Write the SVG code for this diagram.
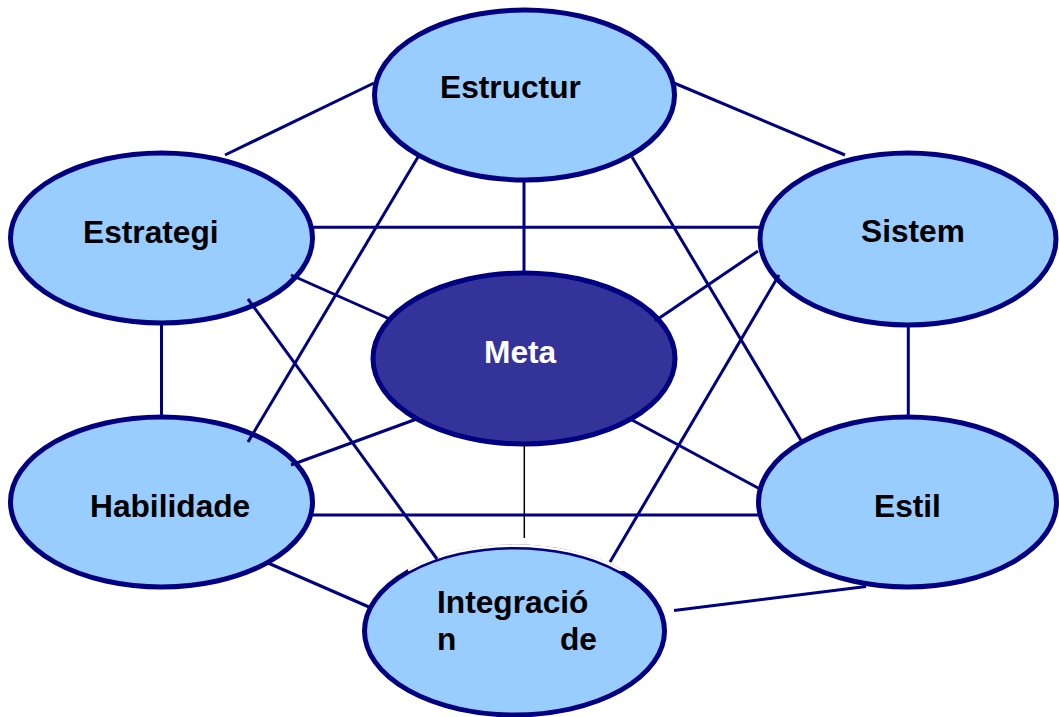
<svg xmlns="http://www.w3.org/2000/svg" width="1059" height="717" viewBox="0 0 1059 717">
<style>
.node{fill:#99CCFF;stroke:#000080;stroke-width:5}
.meta{fill:#333399;stroke:#000080;stroke-width:5}
.lbl{font-family:"Liberation Sans",Arial,sans-serif;font-weight:bold;font-size:31.7px;fill:#000}
.wlbl{font-family:"Liberation Sans",Arial,sans-serif;font-weight:bold;font-size:31.7px;fill:#fff}
.c{stroke:#000080;stroke-width:3;fill:none}
.thin{stroke:#000;stroke-width:1.5;fill:none}
</style>
<defs>
<clipPath id="notch"><rect x="408" y="538" width="217" height="33"/></clipPath>
</defs>
<rect width="1059" height="717" fill="#fff"/>
<g id="estructur"><ellipse class="node" cx="524.5" cy="95" rx="150" ry="85"/><text class="lbl" x="440" y="98">Estructur</text></g>
<g id="estrategi"><ellipse class="node" cx="161.5" cy="238" rx="151" ry="85"/><text class="lbl" x="83" y="243">Estrategi</text></g>
<g id="sistem"><ellipse class="node" cx="908" cy="239" rx="148" ry="86"/><text class="lbl" x="861" y="242">Sistem</text></g>
<g id="meta"><ellipse class="meta" cx="524" cy="358.5" rx="151" ry="85.5"/><text class="wlbl" x="484" y="363">Meta</text></g>
<g id="habilidade"><ellipse class="node" cx="161.5" cy="502" rx="151" ry="85"/><text class="lbl" x="90" y="517">Habilidade</text></g>
<g id="estil"><ellipse class="node" cx="907.5" cy="502" rx="149" ry="85"/><text class="lbl" x="874" y="517">Estil</text></g>
<g id="integracion"><ellipse class="node" cx="514.5" cy="631" rx="150" ry="84"/><ellipse cx="514.5" cy="631" rx="151.4" ry="85.4" fill="none" stroke="#fff" stroke-width="2.6" clip-path="url(#notch)"/><text class="lbl" x="437" y="613">Integració</text><text class="lbl" y="650"><tspan x="437">n</tspan><tspan x="597" text-anchor="end">de</tspan></text></g>
<g id="connectors">
<line class="c" x1="225" y1="155" x2="374" y2="83"/>
<line class="c" x1="674" y1="83" x2="845" y2="155"/>
<line class="c" x1="418" y1="157" x2="248" y2="442"/>
<line class="c" x1="524" y1="180" x2="524" y2="273"/>
<line class="c" x1="632" y1="157" x2="802" y2="442"/>
<line class="c" x1="313" y1="227.3" x2="760" y2="227.3"/>
<line class="c" x1="291" y1="275" x2="392" y2="320"/>
<line class="c" x1="248" y1="299" x2="437" y2="559"/>
<line class="c" x1="161.5" y1="323" x2="161.5" y2="418"/>
<line class="c" x1="758" y1="251" x2="655" y2="321"/>
<line class="c" x1="779" y1="275" x2="610" y2="562"/>
<line class="c" x1="908.3" y1="325" x2="908.3" y2="417"/>
<line class="c" x1="418" y1="418.5" x2="291" y2="465"/>
<line class="c" x1="632" y1="420" x2="759" y2="488.5"/>
<line class="thin" x1="524.3" y1="444" x2="524.3" y2="538"/>
<line class="c" x1="313" y1="515" x2="758" y2="515"/>
<line class="c" x1="268" y1="563" x2="369" y2="607"/>
<line class="c" x1="674" y1="610.5" x2="866" y2="586.5"/>
</g>
</svg>
